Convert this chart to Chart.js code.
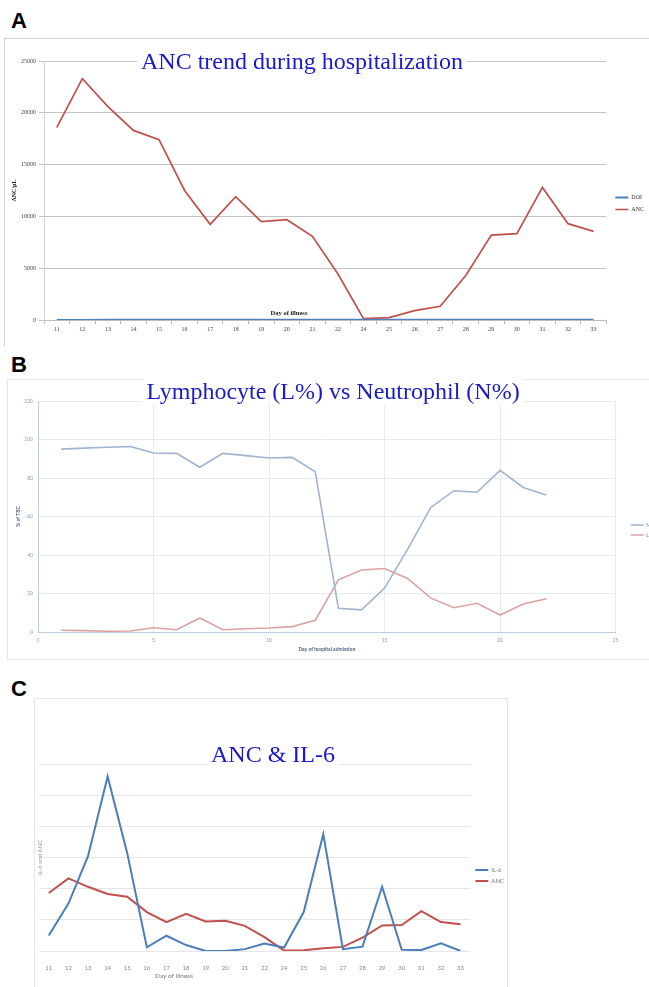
<!DOCTYPE html>
<html>
<head>
<meta charset="utf-8">
<script src="https://cdn.jsdelivr.net/npm/chart.js@4.4.1/dist/chart.umd.min.js"></script>
<style>
html, body { margin: 0; padding: 0; background: #fff; }
body { position: relative; width: 649px; height: 987px; overflow: hidden; }
.tag { position: absolute; left: 11px; font: bold 22px "Liberation Sans", Arial, sans-serif; line-height: 22px; color: #000; }
.frame { position: absolute; box-sizing: border-box; }
.box { position: absolute; }
</style>
</head>
<body>
<div class="tag" style="top:10px">A</div>
<div class="frame" style="left:4px;top:38px;width:700px;height:308px;border-top:1px solid #cfcfcf;border-left:1px solid #cfcfcf"></div>
<div class="box" style="left:4px;top:38px;width:653px;height:308px"><canvas id="chart_anc"></canvas></div>

<div class="tag" style="top:354px">B</div>
<div class="frame" style="left:7px;top:379px;width:700px;height:281px;border:1px solid #e6e6e6"></div>
<div class="box" style="left:7px;top:379px;width:660px;height:280px"><canvas id="chart_diff"></canvas></div>

<div class="tag" style="top:678px">C</div>
<div class="frame" style="left:34px;top:698px;width:474px;height:300px;border:1px solid #e6e6e6"></div>
<div class="box" style="left:34px;top:698px;width:490px;height:289px"><canvas id="chart_il6"></canvas></div>

<script>
'use strict';

// panel A / C : day of illness (23 is missing in the source)
const illnessDays = ['11', '12', '13', '14', '15', '16', '17', '18', '19', '20', '21', '22', '24', '25', '26', '27', '28', '29', '30', '31', '32', '33'];
const doiValues = [11, 12, 13, 14, 15, 16, 17, 18, 19, 20, 21, 22, 24, 25, 26, 27, 28, 29, 30, 31, 32, 33];
const ancValues = [18600, 23300, 20600, 18300, 17400, 12500, 9230, 11900, 9500, 9680, 8080, 4440, 130, 225, 900, 1320, 4300, 8200, 8330, 12800, 9300, 8560];
const il6Values = [5000, 15200, 30400, 56000, 31400, 1200, 4900, 1900, 0, 0, 600, 2400, 1100, 12500, 37500, 600, 1400, 20600, 400, 300, 2500, 0];

// panel B : day of hospital admission
const admitDays = [1, 2, 3, 4, 5, 6, 7, 8, 9, 10, 11, 12, 13, 14, 15, 16, 17, 18, 19, 20, 21, 22];
const neutroPct = [95.0, 95.5, 96.0, 96.4, 93.0, 92.8, 85.6, 92.8, 91.6, 90.4, 90.7, 83.2, 12.3, 11.5, 22.8, 43.0, 64.7, 73.4, 72.6, 84.0, 75.1, 71.2];
const lymphoPct = [0.9, 0.7, 0.4, 0.5, 2.2, 1.2, 7.3, 1.2, 1.7, 2.1, 2.8, 6.1, 27.1, 32.2, 33.0, 27.8, 17.6, 12.6, 14.9, 8.8, 14.5, 17.3];

const SERIF = '"Liberation Serif", "Times New Roman", serif';
const SANS = 'Lato, "Open Sans", sans-serif';
const TITLE_BLUE = '#1a1ac8';

// free texts: chart titles sitting on the top gridline, inner axis captions
const panelText = {
	id: 'panelText',
	afterDraw(chart, args, opts) {
		let ctx = chart.ctx;
		(opts.items || []).forEach(t => {
			ctx.save();
			ctx.font = t.font;
			ctx.textAlign = 'center';
			ctx.textBaseline = 'alphabetic';
			if (t.bg) {
				let w = ctx.measureText(t.text).width;
				ctx.fillStyle = '#fff';
				ctx.fillRect(t.x - w / 2 - 4, t.y - t.size, w + 8, t.size * 1.25);
			}
			ctx.fillStyle = t.color;
			ctx.fillText(t.text, t.x, t.y);
			ctx.restore();
		});
	}
};

function lineLegend(font, color, padding) {
	return {
		position: 'right',
		labels: {
			font: font,
			color: color,
			usePointStyle: true,
			pointStyle: 'line',
			pointStyleWidth: 13,
			padding: padding,
		},
	};
}

function lineSet(label, data, color, width) {
	return {
		label: label,
		data: data,
		borderColor: color,
		backgroundColor: color,
		borderWidth: width,
		pointRadius: 0,
		tension: 0,
	};
}

// empty strip between plot and legend
function gapAxis(width) {
	return {
		position: 'right',
		grid: {display: false},
		ticks: {display: false},
		border: {display: false},
		afterFit: s => { s.width = width; },
	};
}

// A
new Chart(document.getElementById('chart_anc'), {
	type: 'line',
	data: {
		labels: illnessDays,
		datasets: [
			lineSet('DOI', doiValues, '#4f81bd', 2),
			lineSet('ANC', ancValues, '#c0504d', 1.7),
		],
	},
	options: {
		responsive: true,
		maintainAspectRatio: false,
		animation: false,
		layout: {padding: {top: 23, right: 3, bottom: 0, left: 0}},
		plugins: {
			legend: lineLegend({family: SERIF, size: 6}, '#333', 6),
			tooltip: {enabled: false},
			panelText: {
				items: [
					{text: 'ANC trend during hospitalization', x: 298, y: 31, size: 24, font: '24px ' + SERIF, color: TITLE_BLUE, bg: true},
					{text: 'Day of illness', x: 285, y: 277, size: 7, font: 'bold 6.5px ' + SERIF, color: '#222'},
				],
			},
		},
		scales: {
			x: {
				offset: true,
				grid: {drawOnChartArea: false, tickLength: 4, color: '#bdbdbd', offset: true},
				border: {color: '#bdbdbd'},
				ticks: {font: {family: SERIF, size: 6}, color: '#444', padding: 2, maxRotation: 0, autoSkip: false},
				afterFit: s => { s.height = 26; },
			},
			y: {
				min: 0,
				max: 25000,
				ticks: {stepSize: 5000, font: {family: SERIF, size: 6}, color: '#444', padding: 3, callback: v => String(v)},
				grid: {color: '#c4c4c4', tickLength: 5},
				border: {color: '#d4d4d4'},
				title: {display: true, text: 'ANC/µL', font: {family: SERIF, size: 6, weight: 'bold'}, color: '#222', padding: {top: 7, bottom: 0}},
				afterFit: s => { s.width = 40; },
			},
			gap: gapAxis(3),
		},
	},
	plugins: [panelText],
});

// B
new Chart(document.getElementById('chart_diff'), {
	type: 'line',
	data: {
		labels: admitDays,
		datasets: [
			lineSet('N%', neutroPct, '#9fb4cf', 1.6),
			lineSet('L%', lymphoPct, '#dba3a3', 1.6),
		],
	},
	options: {
		responsive: true,
		maintainAspectRatio: false,
		animation: false,
		layout: {padding: {top: 22, right: 3, bottom: 0, left: 0}},
		plugins: {
			legend: lineLegend({family: SANS, size: 5}, '#6b7a90', 5),
			tooltip: {enabled: false},
			panelText: {
				items: [
					{text: 'Lymphocyte (L%) vs Neutrophil (N%)', x: 326, y: 20, size: 24, font: '24px ' + SERIF, color: TITLE_BLUE, bg: true},
				],
			},
		},
		scales: {
			x: {
				type: 'linear',
				min: 0,
				max: 25,
				ticks: {stepSize: 5, font: {family: SANS, size: 5}, color: '#8d9ab0', padding: 5},
				grid: {color: '#e3eaf3', drawTicks: false},
				border: {color: '#bccde3'},
				title: {display: true, text: 'Day of hospital admission', font: {family: SANS, size: 5, weight: 'bold'}, color: '#4b6584', padding: {top: 0, bottom: 7}},
				afterFit: s => { s.height = 27; },
			},
			y: {
				min: 0,
				max: 120,
				ticks: {stepSize: 20, font: {family: SANS, size: 5}, color: '#8d9ab0', padding: 5},
				grid: {color: '#e3eaf3', drawTicks: false},
				border: {color: '#bccde3'},
				title: {display: true, text: '% of TBC', font: {family: SANS, size: 5, weight: 'bold'}, color: '#4b6584', padding: {top: 8, bottom: 0}},
				afterFit: s => { s.width = 31; },
			},
			gap: gapAxis(10),
		},
	},
	plugins: [panelText],
});

// C
new Chart(document.getElementById('chart_il6'), {
	type: 'line',
	data: {
		labels: illnessDays,
		datasets: [
			lineSet('IL-6', il6Values, '#4a7ebb', 2),
			lineSet('ANC', ancValues, '#c0504d', 2),
		],
	},
	options: {
		responsive: true,
		maintainAspectRatio: false,
		animation: false,
		layout: {padding: {top: 66, right: 10, bottom: 0, left: 0}},
		plugins: {
			legend: lineLegend({family: SANS, size: 6}, '#777', 5),
			tooltip: {enabled: false},
			panelText: {
				items: [
					{text: 'ANC & IL-6', x: 239, y: 64, size: 24, font: '24px ' + SERIF, color: TITLE_BLUE, bg: true},
					{text: 'Day of illness', x: 140, y: 280, size: 7, font: '6.5px ' + SANS, color: '#777'},
				],
			},
		},
		scales: {
			x: {
				offset: true,
				grid: {display: false},
				border: {display: false},
				ticks: {font: {family: SANS, size: 6}, color: '#8a8a8a', padding: 5, maxRotation: 0, autoSkip: false},
				afterFit: s => { s.height = 36; },
			},
			y: {
				min: 0,
				max: 60000,
				ticks: {display: false, stepSize: 10000},
				grid: {color: '#e6e6e6', drawTicks: false},
				border: {display: false},
				title: {display: true, text: 'IL-6 and ANC', font: {family: SANS, size: 6}, color: '#999', padding: {top: 2, bottom: 0}},
				afterFit: s => { s.width = 5; },
			},
		},
	},
	plugins: [panelText],
});
</script>
</body>
</html>
